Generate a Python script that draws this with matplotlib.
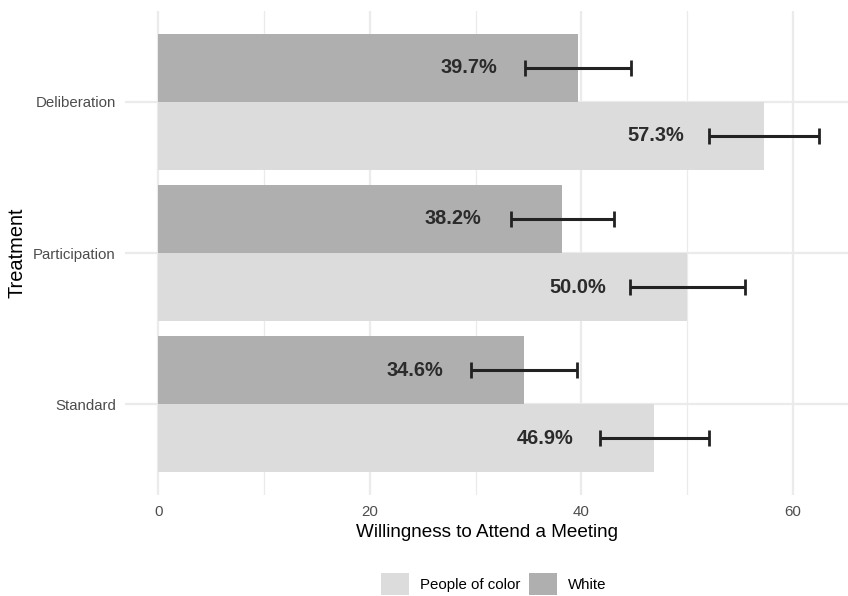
import numpy as np
import matplotlib.pyplot as plt
from matplotlib.patches import Patch

plt.rcParams['font.family'] = ['Liberation Sans', 'DejaVu Sans']

# data
treatments = ['Standard', 'Participation', 'Deliberation']
white = [34.6, 38.2, 39.7]
poc = [46.9, 50.0, 57.3]
white_err = [5.0, 4.85, 5.0]
poc_err = [5.15, 5.45, 5.2]

y = np.arange(len(treatments))
h = 0.45  # dodge width 0.9 split into two bars
col_white = '#afafaf'
col_poc = '#dcdcdc'

fig = plt.figure(figsize=(8.48, 5.96), dpi=100)
ax = fig.add_axes([125/848, 1 - 495/596, 1 - 125/848, (495 - 11)/596])

ax.barh(y + h/2, white, height=h, color=col_white, zorder=2)
ax.barh(y - h/2, poc, height=h, color=col_poc, zorder=2)

ekw = dict(fmt='none', ecolor='#222222', elinewidth=2.2, capsize=6.0, capthick=2.0, zorder=3)
ax.errorbar(white, y + h/2, xerr=white_err, **ekw)
ax.errorbar(poc, y - h/2, xerr=poc_err, **ekw)

for vals, off in [(white, h/2), (poc, -h/2)]:
    for i, v in enumerate(vals):
        ax.text(v - 10.3, y[i] + off, '%.1f%%' % v, ha='center', va='center',
                fontsize=14.4, fontweight='bold', color='#2b2b2b', zorder=4)

ax.set_xlim(-3.14, 65.2)
ax.set_ylim(-0.6, 2.6)
ax.set_yticks(y)
ax.set_yticklabels(treatments)
ax.set_xticks([0, 20, 40, 60])
ax.set_xticks([10, 30, 50], minor=True)

ax.grid(which='major', color='#ebebeb', linewidth=1.6, zorder=0)
ax.grid(which='minor', axis='x', color='#ebebeb', linewidth=0.9, zorder=0)
for s in ax.spines.values():
    s.set_visible(False)
ax.tick_params(axis='both', which='both', length=0, labelsize=10.8, colors='#4d4d4d')
ax.tick_params(axis='y', pad=6.5)
ax.tick_params(axis='x', pad=7)
ax.set_xlabel('Willingness to Attend a Meeting', fontsize=13.6, color='black', labelpad=4)
ax.set_ylabel('Treatment', fontsize=14.4, color='black', labelpad=5)

handles = [Patch(facecolor=col_poc, label='People of color'),
           Patch(facecolor=col_white, label='White')]
fig.legend(handles=handles, loc='center', bbox_to_anchor=(0.582, 1 - 584/596),
           ncol=2, frameon=False, fontsize=10.8, handlelength=1.9, handleheight=1.9,
           handletextpad=0.7, columnspacing=0.6)

fig.savefig('out.png', dpi=100)
